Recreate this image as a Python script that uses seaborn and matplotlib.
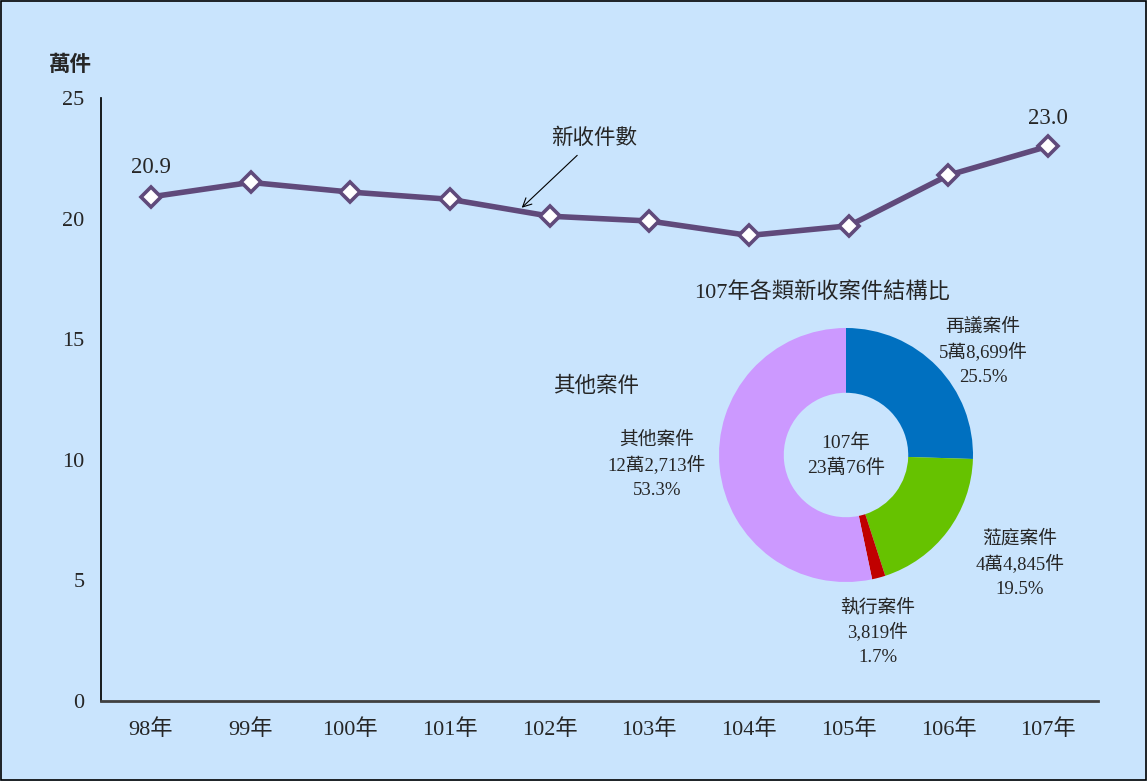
import numpy as np
import pandas as pd
import matplotlib
matplotlib.use('Agg')
import matplotlib.pyplot as plt
import seaborn as sns

# line data (萬件)
years = ['98年', '99年', '100年', '101年', '102年', '103年', '104年', '105年', '106年', '107年']
cases = [20.9, 21.5, 21.1, 20.8, 20.1, 19.9, 19.3, 19.7, 21.8, 23.0]

# donut data (107年)
pie_names = ['再議案件', '蒞庭案件', '執行案件', '其他案件']
pie_counts = ['5萬8,699件', '4萬4,845件', '3,819件', '12萬2,713件']
pie_shares = [25.5, 19.5, 1.7, 53.3]
pie_colors = ['#0070C0', '#66C200', '#C00000', '#CC99FF']

sns.set_theme(style='white')
plt.rcParams['font.family'] = ['Liberation Serif', 'Noto Sans CJK TC']
plt.rcParams['axes.unicode_minus'] = False

bg = '#C9E4FD'
fig = plt.figure(figsize=(11.47, 7.81), dpi=100, facecolor=bg)
fig.patches.append(plt.Rectangle((0.001, 0.001), 0.998, 0.998, transform=fig.transFigure,
                                 fill=False, edgecolor='black', linewidth=1.2))

ax = fig.add_axes([101 / 1147, 1 - 701 / 781, (1098 - 101) / 1147, (701 - 98) / 781])
ax.set_facecolor(bg)

df = pd.DataFrame({'x': np.arange(len(years)), 'cases': cases})
sns.lineplot(data=df, x='x', y='cases', ax=ax, color='#604A7B', linewidth=4,
             marker='D', markersize=10, markerfacecolor='white',
             markeredgecolor='#604A7B', markeredgewidth=2.6, zorder=3)

ax.set_xlim(-0.5, len(years) - 0.5)
ax.set_ylim(0, 25)
ax.set_yticks([0, 5, 10, 15, 20, 25])
ax.set_xticks(np.arange(-0.5, len(years), 1.0))
ax.set_xticklabels([])
ax.set_xticks(np.arange(len(years)), minor=True)
ax.set_xticklabels(years, minor=True)
ax.tick_params(axis='x', which='minor', length=0, pad=13, labelsize=16)
ax.tick_params(axis='x', which='major', length=6, direction='out', color='black', width=1)
ax.tick_params(axis='y', length=6, direction='out', color='black', width=1, labelsize=16, pad=6)
ax.set_xlabel('')
ax.set_ylabel('')
for s in ['top', 'right']:
    ax.spines[s].set_visible(False)
ax.spines['left'].set_color('black')
ax.spines['bottom'].set_color('#404040')
ax.spines['bottom'].set_linewidth(2)

# value labels for first and last point
ax.text(0, cases[0] + 0.8, f'{cases[0]:.1f}', ha='center', va='bottom', fontsize=16.5)
ax.text(len(years) - 1, cases[-1] + 0.7, f'{cases[-1]:.1f}', ha='center', va='bottom', fontsize=16.5)

ax.annotate('新收件數', xy=(3.72, 20.45), xytext=(4.45, 23.3), fontsize=15.5,
            ha='center', va='center',
            arrowprops=dict(arrowstyle='->', color='black', lw=0.8, shrinkA=3, shrinkB=0))

fig.text(70 / 1147, 1 - 66 / 781, '萬件', ha='center', va='center', fontsize=15.5, fontweight='bold')

# donut inset
cx, cy, r = 846, 455, 127
pax = fig.add_axes([(cx - r) / 1147, 1 - (cy + r) / 781, 2 * r / 1147, 2 * r / 781])
pax.pie(pie_shares, colors=pie_colors, startangle=90, counterclock=False, radius=1,
        wedgeprops=dict(width=0.51, edgecolor='none'))
pax.set_xlim(-1, 1)
pax.set_ylim(-1, 1)
pax.set_aspect('equal')
pax.text(0, 0.1, '107年', ha='center', va='center', fontsize=14)
pax.text(0, -0.1, '23萬76件', ha='center', va='center', fontsize=14)

fig.text(822 / 1147, 1 - 293 / 781, '107年各類新收案件結構比', ha='center', va='center', fontsize=16)

label_pos = [(983, 352), (1020, 564), (878, 632), (657, 465)]
for (px, py), n, c, s in zip(label_pos, pie_names, pie_counts, pie_shares):
    fig.text(px / 1147, 1 - py / 781, f'{n}\n{c}\n{s:.1f}%', ha='center', va='center',
             fontsize=13.5, linespacing=1.5)

fig.text(596 / 1147, 1 - 387 / 781, '其他案件', ha='center', va='center', fontsize=15.5)

fig.savefig('out.png', dpi=100, facecolor=bg)
